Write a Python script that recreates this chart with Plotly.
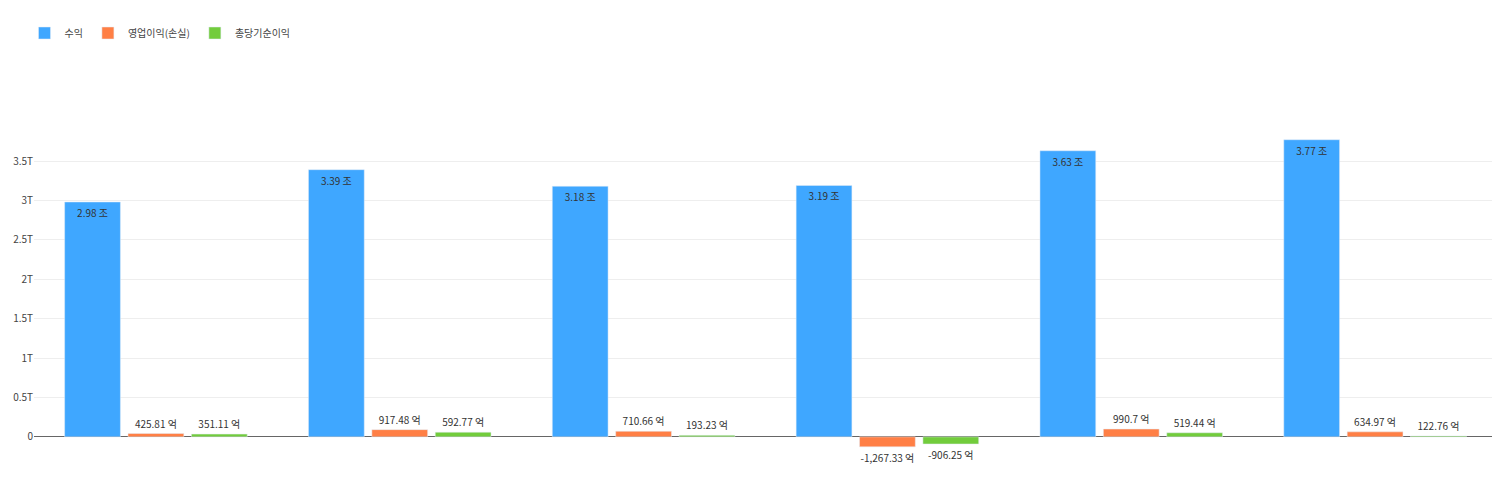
import plotly.graph_objects as go

categories = ["2024년 1분기", "2024년 2분기", "2024년 3분기", "2024년 4분기", "2025년 1분기", "2025년 2분기"]
revenue = [2.98e12, 3.39e12, 3.18e12, 3.19e12, 3.63e12, 3.77e12]
op_income = [425.81e8, 917.48e8, 710.66e8, -1267.33e8, 990.7e8, 634.97e8]
net_income = [351.11e8, 592.77e8, 193.23e8, -906.25e8, 519.44e8, 122.76e8]
rev_text = ["2.98 조", "3.39 조", "3.18 조", "3.19 조", "3.63 조", "3.77 조"]
op_text = ["425.81 억", "917.48 억", "710.66 억", "-1,267.33 억", "990.7 억", "634.97 억"]
net_text = ["351.11 억", "592.77 억", "193.23 억", "-906.25 억", "519.44 억", "122.76 억"]
tickvals = [0, 0.5e12, 1e12, 1.5e12, 2e12, 2.5e12, 3e12, 3.5e12]
ticktext = ["0", "0.5T", "1T", "1.5T", "2T", "2.5T", "3T", "3.5T"]

font = "Noto Sans CJK KR"
fig = go.Figure()
fig.add_bar(name="수익", x=categories, y=revenue, text=rev_text, marker_color="#3FA7FF",
            textposition="inside", insidetextanchor="end", textangle=0,
            textfont=dict(size=10, color="#333"))
fig.add_bar(name="영업이익(손실)", x=categories, y=op_income, text=op_text, marker_color="#FF7F45",
            textposition="outside", textangle=0, textfont=dict(size=10, color="#333"), cliponaxis=False)
fig.add_bar(name="총당기순이익", x=categories, y=net_income, text=net_text, marker_color="#72CC3C",
            textposition="outside", textangle=0, textfont=dict(size=10, color="#333"), cliponaxis=False)

fig.update_layout(
    width=1500, height=479, barmode="group", bargap=0.22, bargroupgap=0.12,
    paper_bgcolor="white", plot_bgcolor="white",
    font=dict(family=font, size=10, color="#333"),
    margin=dict(l=26, r=11, t=60, b=32, autoexpand=False),
    legend=dict(orientation="h", xref="container", yref="container", x=0.011, xanchor="left",
                y=1 - 25 / 479, yanchor="middle", font=dict(size=10, color="#444"),
                traceorder="normal"),
    xaxis=dict(showline=False, ticks="", ticklabelstandoff=25, automargin=False,
               tickfont=dict(size=10, color="#444")),
    yaxis=dict(range=[-0.23e12, 4.68e12], tickvals=tickvals, ticktext=ticktext, automargin=False,
               gridcolor="#eeeeee", zeroline=True, zerolinecolor="#666", zerolinewidth=1,
               tickfont=dict(size=10, color="#444")),
)
fig.write_html("out.html")
